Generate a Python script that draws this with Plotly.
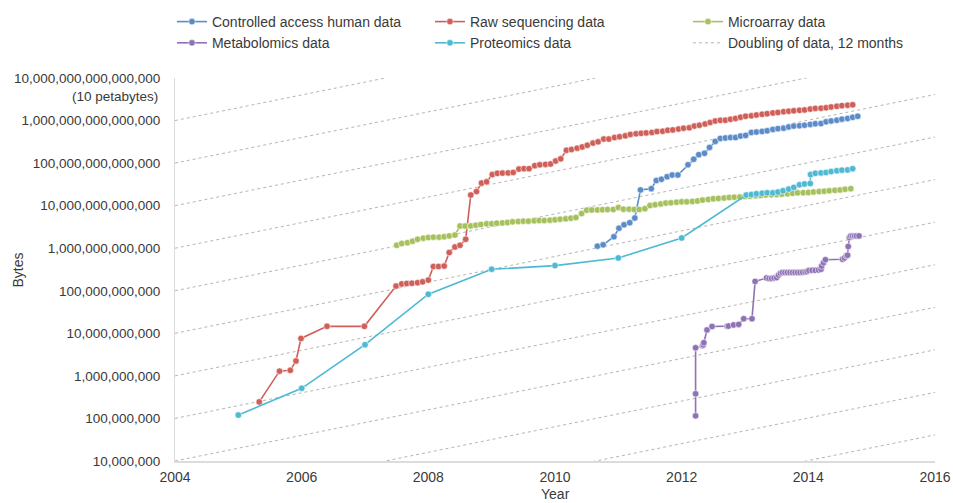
import plotly.graph_objects as go

# ---------------- data ----------------
controlled_years = [2010.67, 2010.76, 2010.93, 2011.01, 2011.09, 2011.18, 2011.26, 2011.35, 2011.52,
                    2011.60, 2011.68, 2011.77, 2011.85, 2011.94, 2012.10, 2012.19, 2012.27, 2012.36,
                    2012.44, 2012.53, 2012.61, 2012.69, 2012.77, 2012.85, 2012.93, 2013.01, 2013.10,
                    2013.18, 2013.27, 2013.35, 2013.44, 2013.52, 2013.61, 2013.69, 2013.77, 2013.86,
                    2013.94, 2014.03, 2014.11, 2014.20, 2014.28, 2014.36, 2014.45, 2014.53, 2014.62,
                    2014.70, 2014.78]
controlled_bytes = [1.12e12, 1.20e12, 1.86e12, 2.95e12, 3.55e12, 3.98e12, 5.13e12, 2.34e13, 2.51e13,
                    3.89e13, 4.17e13, 4.79e13, 5.25e13, 5.25e13, 9.12e13, 1.23e14, 1.58e14, 1.70e14,
                    2.34e14, 3.24e14, 3.80e14, 3.89e14, 3.98e14, 3.98e14, 4.32e14, 4.47e14, 5.25e14,
                    5.37e14, 5.56e14, 5.75e14, 6.17e14, 6.46e14, 6.61e14, 7.08e14, 7.41e14, 7.59e14,
                    7.76e14, 8.13e14, 8.41e14, 8.51e14, 9.33e14, 9.77e14, 1.02e15, 1.08e15, 1.12e15,
                    1.19e15, 1.26e15]

raw_years = [2005.33, 2005.65, 2005.82, 2005.91, 2005.99, 2006.40, 2006.99, 2007.49, 2007.58, 2007.66,
             2007.74, 2007.83, 2007.91, 2008.00, 2008.08, 2008.16, 2008.25, 2008.33, 2008.42, 2008.50,
             2008.59, 2008.67, 2008.76, 2008.84, 2008.92, 2009.01, 2009.09, 2009.17, 2009.26, 2009.34,
             2009.43, 2009.51, 2009.59, 2009.68, 2009.76, 2009.85, 2009.93, 2010.01, 2010.09, 2010.18,
             2010.26, 2010.35, 2010.43, 2010.51, 2010.60, 2010.68, 2010.77, 2010.85, 2010.94, 2011.02,
             2011.11, 2011.19, 2011.28, 2011.36, 2011.44, 2011.53, 2011.61, 2011.70, 2011.78, 2011.86,
             2011.95, 2012.03, 2012.12, 2012.20, 2012.28, 2012.37, 2012.45, 2012.53, 2012.61, 2012.69,
             2012.77, 2012.85, 2012.93, 2013.01, 2013.10, 2013.18, 2013.27, 2013.35, 2013.44, 2013.52,
             2013.61, 2013.69, 2013.77, 2013.86, 2013.94, 2014.03, 2014.11, 2014.20, 2014.28, 2014.36,
             2014.45, 2014.53, 2014.62, 2014.70]
raw_bytes = [2.45e8, 1.29e9, 1.35e9, 2.24e9, 7.59e9, 1.46e10, 1.46e10, 1.29e11, 1.45e11, 1.48e11,
             1.50e11, 1.55e11, 1.62e11, 1.78e11, 3.72e11, 3.72e11, 3.80e11, 7.94e11, 1.07e12, 1.17e12,
             1.62e12, 1.78e13, 2.14e13, 3.39e13, 3.63e13, 5.37e13, 5.75e13, 5.82e13, 5.89e13, 6.03e13,
             7.24e13, 7.41e13, 7.41e13, 8.71e13, 9.12e13, 9.33e13, 9.55e13, 1.12e14, 1.26e14, 2.00e14,
             2.09e14, 2.24e14, 2.40e14, 2.63e14, 2.95e14, 3.16e14, 3.67e14, 3.67e14, 3.98e14, 4.17e14,
             4.37e14, 4.73e14, 4.90e14, 5.01e14, 5.13e14, 5.25e14, 5.50e14, 5.62e14, 5.89e14, 6.03e14,
             6.31e14, 6.61e14, 6.76e14, 7.41e14, 7.76e14, 8.32e14, 9.00e14, 9.77e14, 1.01e15, 1.02e15,
             1.07e15, 1.12e15, 1.20e15, 1.26e15, 1.29e15, 1.35e15, 1.40e15, 1.45e15, 1.51e15, 1.55e15,
             1.62e15, 1.66e15, 1.70e15, 1.74e15, 1.78e15, 1.86e15, 1.93e15, 1.95e15, 2.00e15, 2.09e15,
             2.16e15, 2.24e15, 2.29e15, 2.34e15]

microarray_years = [2007.50, 2007.58, 2007.67, 2007.75, 2007.83, 2007.92, 2008.00, 2008.08, 2008.17, 2008.25,
                    2008.33, 2008.42, 2008.50, 2008.58, 2008.67, 2008.75, 2008.83, 2008.92, 2009.00, 2009.08,
                    2009.17, 2009.25, 2009.33, 2009.42, 2009.50, 2009.58, 2009.67, 2009.75, 2009.83, 2009.92,
                    2010.00, 2010.08, 2010.17, 2010.25, 2010.33, 2010.42, 2010.50, 2010.58, 2010.67, 2010.75,
                    2010.83, 2010.92, 2011.00, 2011.08, 2011.17, 2011.25, 2011.33, 2011.42, 2011.50, 2011.58,
                    2011.67, 2011.75, 2011.83, 2011.92, 2012.00, 2012.08, 2012.17, 2012.25, 2012.33, 2012.42,
                    2012.50, 2012.58, 2012.67, 2012.75, 2012.83, 2012.92, 2013.00, 2013.08, 2013.17, 2013.25,
                    2013.33, 2013.42, 2013.50, 2013.58, 2013.67, 2013.75, 2013.83, 2013.92, 2014.00, 2014.08,
                    2014.17, 2014.25, 2014.33, 2014.42, 2014.50, 2014.58, 2014.67]
microarray_bytes = [1.17e12, 1.29e12, 1.35e12, 1.46e12, 1.62e12, 1.72e12, 1.78e12, 1.82e12, 1.82e12, 1.86e12,
                    1.95e12, 2.04e12, 3.31e12, 3.31e12, 3.35e12, 3.47e12, 3.60e12, 3.74e12, 3.74e12, 3.87e12,
                    3.94e12, 4.02e12, 4.17e12, 4.24e12, 4.32e12, 4.32e12, 4.40e12, 4.48e12, 4.48e12, 4.56e12,
                    4.65e12, 4.81e12, 4.90e12, 5.08e12, 5.25e12, 6.53e12, 7.83e12, 7.94e12, 7.94e12, 8.04e12,
                    8.13e12, 8.13e12, 9.06e12, 8.28e12, 8.28e12, 8.13e12, 8.13e12, 8.51e12, 1.01e13, 1.05e13,
                    1.10e13, 1.15e13, 1.17e13, 1.20e13, 1.23e13, 1.23e13, 1.26e13, 1.29e13, 1.35e13, 1.40e13,
                    1.45e13, 1.48e13, 1.51e13, 1.55e13, 1.58e13, 1.60e13, 1.64e13, 1.66e13, 1.70e13, 1.74e13,
                    1.78e13, 1.80e13, 1.84e13, 1.86e13, 1.91e13, 1.95e13, 2.00e13, 2.02e13, 2.04e13, 2.09e13,
                    2.14e13, 2.19e13, 2.24e13, 2.29e13, 2.34e13, 2.43e13, 2.51e13]

metabolomics_years = [2012.22, 2012.22, 2012.22, 2012.33, 2012.34, 2012.35, 2012.40, 2012.48, 2012.72, 2012.74,
                      2012.82, 2012.90, 2012.98, 2013.11, 2013.16, 2013.34, 2013.38, 2013.42, 2013.46, 2013.50,
                      2013.53, 2013.56, 2013.59, 2013.63, 2013.67, 2013.71, 2013.75, 2013.79, 2013.83, 2013.87,
                      2013.91, 2013.95, 2013.98, 2014.01, 2014.06, 2014.11, 2014.16, 2014.20, 2014.21, 2014.24,
                      2014.27, 2014.54, 2014.57, 2014.60, 2014.62, 2014.63, 2014.65, 2014.67, 2014.70, 2014.73,
                      2014.76, 2014.80]
metabolomics_bytes = [1.15e8, 3.80e8, 4.57e9, 5.13e9, 5.37e9, 6.03e9, 1.20e10, 1.45e10, 1.46e10, 1.48e10,
                      1.58e10, 1.62e10, 2.21e10, 2.21e10, 1.66e11, 2.00e11, 1.95e11, 1.95e11, 2.00e11, 2.04e11,
                      2.34e11, 2.57e11, 2.69e11, 2.69e11, 2.69e11, 2.69e11, 2.69e11, 2.69e11, 2.69e11, 2.69e11,
                      2.72e11, 2.75e11, 2.82e11, 2.99e11, 3.02e11, 3.02e11, 3.09e11, 3.20e11, 3.80e11, 4.57e11,
                      5.37e11, 5.50e11, 5.89e11, 6.61e11, 6.84e11, 1.10e12, 1.78e12, 1.95e12, 1.95e12, 1.95e12,
                      1.95e12, 1.95e12]

proteomics_years = [2005.00, 2006.00, 2007.00, 2008.00, 2009.00, 2010.00, 2011.00, 2012.00, 2013.02, 2013.10,
                    2013.18, 2013.27, 2013.35, 2013.44, 2013.52, 2013.60, 2013.69, 2013.77, 2013.86, 2013.94,
                    2014.03, 2014.035, 2014.11, 2014.20, 2014.28, 2014.36, 2014.45, 2014.53, 2014.62, 2014.70]
proteomics_bytes = [1.2e8, 5.1e8, 5.4e9, 8.3e10, 3.2e11, 3.9e11, 5.9e11, 1.74e12, 1.78e13, 1.82e13,
                    1.90e13, 1.95e13, 2.00e13, 2.00e13, 2.09e13, 2.24e13, 2.45e13, 2.69e13, 3.09e13, 3.24e13,
                    3.31e13, 5.37e13, 5.75e13, 5.89e13, 6.03e13, 6.31e13, 6.61e13, 6.84e13, 6.92e13, 7.41e13]

# reference lines: data doubling every 12 months, starting from each power of ten at the left edge
doubling_start_exponents = [4, 5, 6, 7, 8, 9, 10, 11, 12, 13, 14, 15]
doubling_period_years = 1.0

x_range = [2004, 2016]
x_tick_vals = [2004, 2006, 2008, 2010, 2012, 2014, 2016]
x_tick_text = ["2004", "2006", "2008", "2010", "2012", "2014", "2016"]
y_tick_vals = [1e7, 1e8, 1e9, 1e10, 1e11, 1e12, 1e13, 1e14, 1e15, 1e16]
y_tick_text = ["10,000,000", "100,000,000", "1,000,000,000", "10,000,000,000", "100,000,000,000",
               "1,000,000,000,000", "10,000,000,000,000", "100,000,000,000,000",
               "1,000,000,000,000,000", "10,000,000,000,000,000"]

# ---------------- figure ----------------
FONT = "Liberation Sans, Arial, sans-serif"
TEXT_COLOR = "#3a3a3a"

series = [
    ("Controlled access human data", controlled_years, controlled_bytes, "#5B8CC9"),
    ("Raw sequencing data", raw_years, raw_bytes, "#CF5F58"),
    ("Microarray data", microarray_years, microarray_bytes, "#A5C05C"),
    ("Metabolomics data", metabolomics_years, metabolomics_bytes, "#8F72B5"),
    ("Proteomics data", proteomics_years, proteomics_bytes, "#4DB9D3"),
]

fig = go.Figure()

dx, dy = [], []
span = x_range[1] - x_range[0]
for k in doubling_start_exponents:
    dx += [x_range[0], x_range[1], None]
    dy += [10.0 ** k, 10.0 ** k * 2.0 ** (span / doubling_period_years), None]
fig.add_trace(go.Scatter(
    x=dx, y=dy, mode="lines", name="Doubling of data, 12 months",
    line=dict(color="#b5b5b5", width=1, dash="3px,3px"),
    legendrank=1006, hoverinfo="skip"))

for rank, (name, xs, ys, color) in enumerate(series):
    fig.add_trace(go.Scatter(
        x=xs, y=ys, mode="lines+markers", name=name,
        line=dict(color=color, width=1.6),
        marker=dict(color=color, size=6.5, line=dict(color="rgba(255,255,255,0.55)", width=1)),
        legendrank=1000 + rank))

fig.update_layout(
    width=953, height=503,
    margin=dict(l=175, r=18, t=78, b=41.5, autoexpand=False),
    paper_bgcolor="white", plot_bgcolor="white",
    font=dict(family=FONT, size=14, color=TEXT_COLOR),
    showlegend=True,
    legend=dict(orientation="h", x=-0.004, xanchor="left", y=1.188, yanchor="top",
                entrywidth=213, entrywidthmode="pixels", itemwidth=30,
                font=dict(family=FONT, size=14, color=TEXT_COLOR),
                bgcolor="rgba(0,0,0,0)", tracegroupgap=0),
    xaxis=dict(range=x_range, tickvals=x_tick_vals, ticktext=x_tick_text, automargin=False,
               showgrid=False, zeroline=False, showline=True, linecolor="#dcdcdc", linewidth=2,
               ticks="", ticklabelstandoff=2, tickfont=dict(size=14)),
    yaxis=dict(type="log", range=[7, 16], tickvals=y_tick_vals, ticktext=y_tick_text, automargin=False,
               showgrid=False, zeroline=False, showline=True, linecolor="#dcdcdc", linewidth=1,
               ticks="", ticklabelstandoff=11, tickfont=dict(size=13.5)),
    annotations=[
        dict(text="(10 petabytes)", xref="paper", yref="paper", x=-0.0197, y=0.9505,
             xanchor="right", yanchor="middle", showarrow=False,
             font=dict(family=FONT, size=13.5, color=TEXT_COLOR)),
        dict(text="Bytes", xref="paper", yref="paper", x=-0.2066, y=0.5, textangle=-90,
             xanchor="center", yanchor="middle", showarrow=False,
             font=dict(family=FONT, size=14, color=TEXT_COLOR)),
        dict(text="Year", xref="paper", yref="paper", x=0.5, y=-0.087,
             xanchor="center", yanchor="middle", showarrow=False,
             font=dict(family=FONT, size=14, color=TEXT_COLOR)),
    ],
)

# remove the default 8px page margin so the 953x503 figure fills the window exactly
fig.write_html("out.html",
               config={"displayModeBar": False},
               post_script="document.body.style.margin='0';document.body.style.overflow='hidden';")
